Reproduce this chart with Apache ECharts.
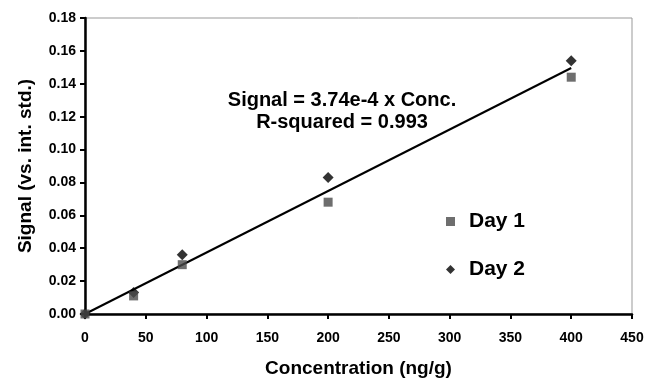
<!DOCTYPE html>
<html>
<head>
<meta charset="utf-8">
<script src="https://cdn.jsdelivr.net/npm/echarts@6/dist/echarts.min.js"></script>
<style>
  html, body { margin: 0; padding: 0; background: #fff; }
  #chart { width: 647px; height: 379px; }
</style>
</head>
<body>
<div id="chart"></div>
<script>
const conc = [0, 40, 80, 200, 400];
const day1 = [0, 0.011, 0.030, 0.068, 0.144];
const day2 = [0, 0.013, 0.036, 0.083, 0.154];
const slope = 3.74e-4;
const fitX = [0, 400];

const font = 'Liberation Sans, Arial, sans-serif';

const chart = echarts.init(document.getElementById('chart'));
chart.setOption({
  animation: false,
  grid: {
    left: 85, right: 15, top: 18, bottom: 65,
    outerBoundsMode: 'none', containLabel: false,
    show: true, borderColor: '#999', borderWidth: 1
  },
  xAxis: {
    type: 'value', min: 0, max: 450, interval: 50,
    name: 'Concentration (ng/g)', nameLocation: 'middle', nameGap: 45,
    nameTextStyle: { fontFamily: font, fontWeight: 'bold', fontSize: 19, color: '#000' },
    axisLine: { lineStyle: { color: '#000', width: 2.5 } },
    axisTick: { show: true, inside: false, length: 5, lineStyle: { color: '#000', width: 2 } },
    axisLabel: { fontFamily: font, fontWeight: 'bold', fontSize: 14, color: '#000', margin: 17 },
    splitLine: { show: false }
  },
  yAxis: {
    type: 'value', min: 0, max: 0.18, interval: 0.02,
    name: 'Signal (vs. int. std.)', nameLocation: 'middle', nameGap: 50,
    nameTextStyle: { fontFamily: font, fontWeight: 'bold', fontSize: 19, color: '#000' },
    axisLine: { show: true, lineStyle: { color: '#000', width: 2.5 } },
    axisTick: { show: true, inside: false, length: 5, lineStyle: { color: '#000', width: 2 } },
    axisLabel: {
      fontFamily: font, fontWeight: 'bold', fontSize: 14, color: '#000', margin: 9,
      formatter: v => v.toFixed(2)
    },
    splitLine: { show: false }
  },
  legend: {
    orient: 'vertical', left: 441, top: 206, itemGap: 27,
    itemWidth: 9, itemHeight: 9,
    textStyle: { fontFamily: font, fontWeight: 'bold', fontSize: 21, color: '#000', padding: [0, 0, 0, 9] },
    data: [
      { name: 'Day 1', icon: 'rect' },
      { name: 'Day 2', icon: 'diamond' }
    ]
  },
  graphic: [
    {
      type: 'text', x: 342, y: 89,
      style: {
        text: 'Signal = 3.74e-4 x Conc.\nR-squared = 0.993',
        font: 'bold 20px ' + font, fill: '#000', align: 'center', lineHeight: 22
      }
    }
  ],
  series: [
    {
      name: 'Fit', type: 'line', showSymbol: false, symbol: 'none',
      data: fitX.map(x => [x, slope * x]),
      lineStyle: { color: '#000', width: 2 }, z: 1
    },
    {
      name: 'Day 1', type: 'scatter', symbol: 'rect', symbolSize: 9,
      data: conc.map((c, i) => [c, day1[i]]),
      itemStyle: { color: '#4a4a4a' }, z: 3
    },
    {
      name: 'Day 2', type: 'scatter', symbol: 'diamond', symbolSize: 11,
      data: conc.map((c, i) => [c, day2[i]]),
      itemStyle: { color: '#000' }, z: 2
    }
  ]
});
</script>
</body>
</html>
